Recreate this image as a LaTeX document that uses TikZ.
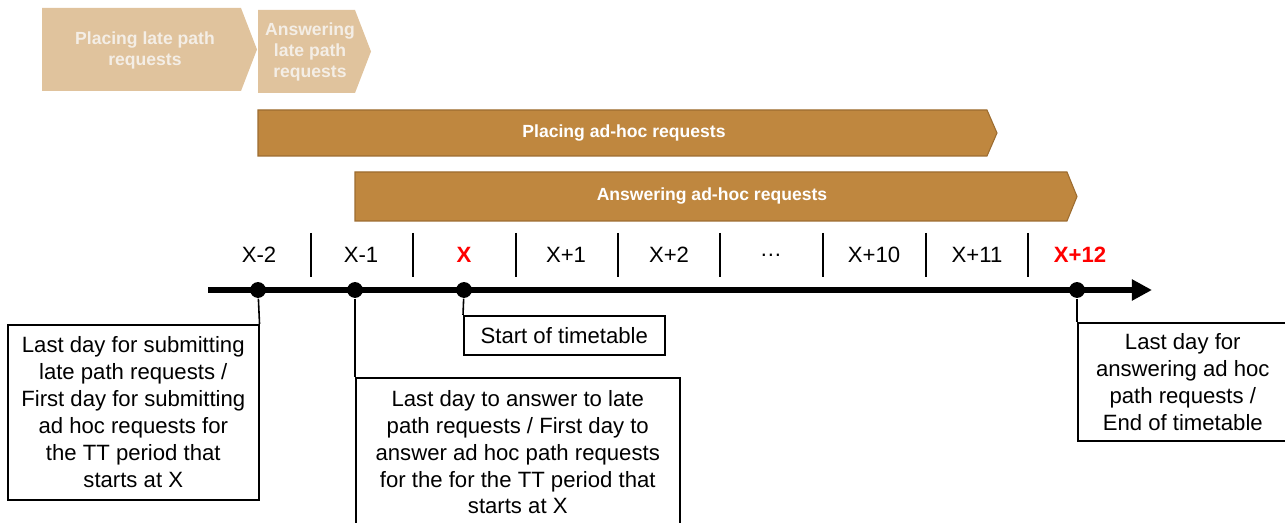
\documentclass[tikz,border=0pt]{standalone}
\usepackage{fontspec}
\setmainfont{Liberation Sans}
\usepackage{tikz}
\usetikzlibrary{arrows.meta}
\definecolor{lighttan}{HTML}{E0C39D}
\definecolor{lighttext}{HTML}{F4EEE6}
\definecolor{bar}{HTML}{BF873F}
\definecolor{barline}{HTML}{9C6C30}
\tikzstyle{daytext}=[inner sep=0pt,font=\fontsize{12.6}{15.3}\selectfont,align=center]
\tikzstyle{note}=[daytext,draw,line width=0.9pt,anchor=north west]
\tikzstyle{dot}=[circle,fill=black,inner sep=0pt,minimum size=9pt]
\tikzstyle{phase}=[inner sep=0pt,font=\fontsize{10}{12}\selectfont\bfseries,align=center]
\tikzstyle{sep}=[line width=0.8pt]

\begin{document}
\begin{tikzpicture}[x=0.02cm,y=-0.02cm,thick]
    \useasboundingbox (0,0) rectangle (1285,523);
    \fill [lighttan] (42,8) -- (241,8) -- (257,49.5) -- (241,91) -- (42,91) -- cycle;
    \fill [lighttan] (258,10) -- (355,10) -- (371,51.5) -- (355,93) -- (258,93) -- cycle;
    \node [phase,text=lighttext] (latein) at (145,50.5) {Placing late path\\requests};
    \node [phase,text=lighttext] (lateout) at (310,52) {Answering\\late path\\requests};
    \draw [fill=bar,draw=barline,line width=0.6pt] (258,110) -- (987,110) -- (997,133) -- (987,156) -- (258,156) -- cycle;
    \draw [fill=bar,draw=barline,line width=0.6pt] (355,172) -- (1067,172) -- (1077,196.5) -- (1067,221) -- (355,221) -- cycle;
    \node [phase,text=white] (adhocin) at (624,133) {Placing ad-hoc requests};
    \node [phase,text=white] (adhocout) at (712,196) {Answering ad-hoc requests};

    \node [daytext] (xm2) at (259,255) {X-2};
    \node [daytext] (xm1) at (361,255) {X-1};
    \node [daytext,text=red,font=\fontsize{12.6}{15.3}\selectfont\bfseries] (x0) at (464,255) {X};
    \node [daytext] (xp1) at (566,255) {X+1};
    \node [daytext] (xp2) at (669,255) {X+2};
    \node [daytext] (xdots) at (771,255) {\dots};
    \node [daytext] (xp10) at (874,255) {X+10};
    \node [daytext] (xp11) at (977,255) {X+11};
    \node [daytext,text=red,font=\fontsize{12.6}{15.3}\selectfont\bfseries] (xp12) at (1080,255) {X+12};
    \draw [sep] (311,233) -- (311,277);
    \draw [sep] (413,233) -- (413,277);
    \draw [sep] (516,233) -- (516,277);
    \draw [sep] (618,233) -- (618,277);
    \draw [sep] (720,233) -- (720,277);
    \draw [sep] (823,233) -- (823,277);
    \draw [sep] (926,233) -- (926,277);
    \draw [sep] (1028,233) -- (1028,277);

    \coordinate (t0) at (208,290);
    \coordinate (t1) at (1152,290);
    \draw [line width=3.4pt,-{Triangle[length=11.5pt,width=11.5pt]}] (t0) -- (t1);
    \node [dot] (d1) at (258,290) {};
    \node [dot] (d2) at (355,290) {};
    \node [dot] (d3) at (464,290) {};
    \node [dot] (d4) at (1077,290) {};

    \node [note,minimum width=5.02cm,minimum height=3.5cm] (b1) at (7,324)
        {Last day for submitting\\late path requests /\\First day for submitting\\ad hoc requests for\\the TT period that\\starts at X};
    \node [note,minimum width=6.48cm,minimum height=2.98cm] (b2) at (355,377)
        {Last day to answer to late\\path requests / First day to\\answer ad hoc path requests\\for the for the TT period that\\starts at X};
    \node [note,minimum width=4.02cm,minimum height=0.78cm] (b3) at (463,315) {Start of timetable};
    \node [note,minimum width=4.2cm,minimum height=2.36cm] (b4) at (1077,322)
        {Last day for\\answering ad hoc\\path requests /\\End of timetable};
    \draw [line width=0.9pt] (d1) -- (b1.north east);
    \draw [line width=0.9pt] (d2) -- (b2.north west);
    \draw [line width=0.9pt] (d3) -- (b3.north west);
    \draw [line width=0.9pt] (d4) -- (b4.north west);
\end{tikzpicture}
\end{document}
